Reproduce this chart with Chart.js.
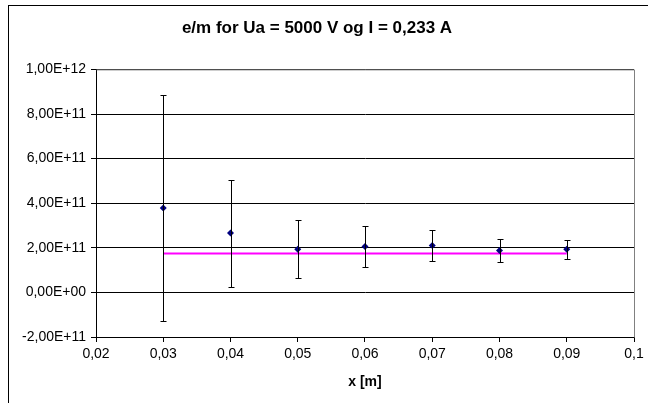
<!DOCTYPE html>
<html>
<head>
<meta charset="utf-8">
<script src="https://cdn.jsdelivr.net/npm/chart.js@4"></script>
<style>
  html, body { margin: 0; padding: 0; background: #fff; }
  #wrap { width: 648px; height: 403px; position: relative; }
</style>
</head>
<body>
<div id="wrap"><canvas id="chart" width="648" height="403"></canvas></div>
<script>
// measured values
const xValues = [0.03, 0.04, 0.05, 0.06, 0.07, 0.08, 0.09];
const emValues = [3.78e11, 2.66e11, 1.93e11, 2.06e11, 2.10e11, 1.88e11, 1.93e11];
const emErrors = [5.06e11, 2.40e11, 1.30e11, 0.94e11, 0.69e11, 0.50e11, 0.41e11];
// mean line
const meanX = [0.03, 0.09];
const meanY = [1.75e11, 1.75e11];

const fmtY = v => v.toExponential(2).replace('.', ',').replace(/e([+-])(\d)$/, 'E$10$2').replace('e', 'E');
const fmtX = v => String(Math.round(v * 100) / 100).replace('.', ',');

// Excel style error bars
const errorBars = {
    id: 'errorBars',
    afterDatasetsDraw(chart) {
        const ctx = chart.ctx;
        const xs = chart.scales.x, ys = chart.scales.y;
        ctx.save();
        ctx.strokeStyle = '#000';
        ctx.lineWidth = 1;
        xValues.forEach((x, i) => {
            const px = Math.round(xs.getPixelForValue(x)) + 0.5;
            const top = Math.round(ys.getPixelForValue(emValues[i] + emErrors[i])) + 0.5;
            const bot = Math.round(ys.getPixelForValue(emValues[i] - emErrors[i])) + 0.5;
            ctx.beginPath();
            ctx.moveTo(px, top); ctx.lineTo(px, bot);
            ctx.moveTo(px - 3, top); ctx.lineTo(px + 3, top);
            ctx.moveTo(px - 3, bot); ctx.lineTo(px + 3, bot);
            ctx.stroke();
        });
        ctx.restore();
    }
};

// plot area frame and outer chart border
const frame = {
    id: 'frame',
    beforeDraw(chart) {
        const ctx = chart.ctx;
        ctx.save();
        ctx.fillStyle = '#fff';
        ctx.fillRect(0, 0, chart.width, chart.height);
        ctx.strokeStyle = '#000';
        ctx.lineWidth = 1;
        ctx.strokeRect(8.5, 5.5, 700, 500);
        ctx.restore();
    },
    afterDraw(chart) {
        const a = chart.chartArea, ctx = chart.ctx;
        ctx.save();
        ctx.strokeStyle = '#808080';
        ctx.lineWidth = 1;
        ctx.beginPath();
        ctx.moveTo(a.left + 0.5, a.top + 0.5);
        ctx.lineTo(a.right + 0.5, a.top + 0.5);
        ctx.lineTo(a.right + 0.5, a.bottom + 0.5);
        ctx.stroke();
        ctx.restore();
    }
};

new Chart(document.getElementById('chart'), {
    type: 'scatter',
    data: {
        datasets: [
            {
                label: 'e/m',
                data: xValues.map((x, i) => ({ x: x, y: emValues[i] })),
                pointStyle: 'rectRot',
                pointRadius: 3.5,
                backgroundColor: '#000080',
                borderColor: '#000080',
                borderWidth: 0,
                order: 1
            },
            {
                label: 'middel',
                type: 'line',
                data: meanX.map((x, i) => ({ x: x, y: meanY[i] })),
                borderColor: '#ff00ff',
                borderWidth: 2,
                pointRadius: 0,
                fill: false,
                order: 2
            }
        ]
    },
    options: {
        responsive: false,
        animation: false,
        layout: { padding: { left: 0, right: 14, top: 0, bottom: 12 } },
        plugins: {
            legend: { display: false },
            tooltip: { enabled: false },
            title: {
                display: true,
                text: 'e/m for Ua = 5000 V og I = 0,233 A',
                color: '#000',
                font: { family: 'Liberation Sans, Arial', size: 17, weight: 'bold' },
                padding: { top: 18, bottom: 31 }
            }
        },
        scales: {
            x: {
                type: 'linear',
                min: 0.02,
                max: 0.1,
                afterBuildTicks: s => { s.ticks = [0.02,0.03,0.04,0.05,0.06,0.07,0.08,0.09,0.1].map(v => ({ value: v })); },
                ticks: {
                    callback: v => fmtX(v),
                    color: '#000',
                    font: { family: 'Liberation Sans, Arial', size: 14 },
                    padding: 4,
                    maxRotation: 0
                },
                grid: { drawOnChartArea: false, drawTicks: true, tickLength: 5, color: '#000' },
                border: { color: '#000' },
                title: {
                    display: true,
                    text: 'x [m]',
                    color: '#000',
                    font: { family: 'Liberation Sans, Arial', size: 14, weight: 'bold' },
                    padding: { top: 6, bottom: 0 }
                },
                afterFit: s => { s.height = 54; }
            },
            y: {
                min: -2e11,
                max: 1e12,
                ticks: {
                    stepSize: 2e11,
                    callback: v => fmtY(v),
                    color: '#000',
                    font: { family: 'Liberation Sans, Arial', size: 14 },
                    padding: 5
                },
                grid: { color: '#000', tickLength: 5, drawTicks: true },
                border: { color: '#000' },
                afterFit: s => { s.width = 96; }
            }
        }
    },
    plugins: [frame, errorBars]
});
</script>
</body>
</html>
